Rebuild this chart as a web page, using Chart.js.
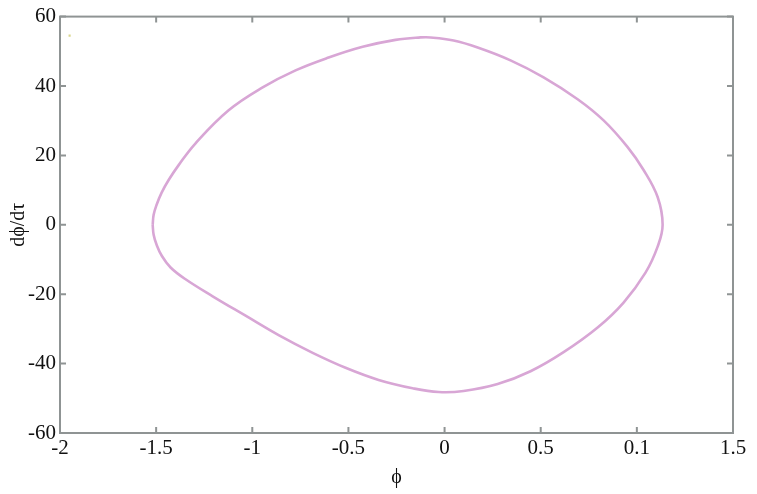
<!DOCTYPE html>
<html lang="en">
<head>
  <meta charset="UTF-8" />
  <title>Phase portrait</title>
  <script src="https://cdn.jsdelivr.net/npm/chart.js@4"></script>
  <style>
    html, body { margin: 0; padding: 0; background: #fff; }
    #wrap { width: 757px; height: 494px; }
  </style>
</head>
<body>
  <div id="wrap"><canvas id="phaseChart"></canvas></div>

  <script>
    // phase trajectory (closed loop, clockwise from the left tip)
    const phiValues = [
      -1.518, -1.513, -1.498, -1.472, -1.435, -1.383, -1.295, -1.123, -0.946, -0.775,
      -0.603, -0.426, -0.255, -0.125, -0.073, 0.047, 0.172, 0.343, 0.515, 0.692,
      0.827, 0.952, 1.035, 1.108, 1.134, 1.108, 1.045, 0.931, 0.796, 0.619,
      0.447, 0.276, 0.099, -0.031, -0.166, -0.343, -0.515, -0.686, -0.863, -1.035,
      -1.206, -1.347, -1.425, -1.470, -1.498, -1.513, -1.518
    ];
    const dphiValues = [
      0, 2.9, 5.7, 9.2, 12.9, 17.2, 23.5, 33.0, 39.6, 44.5,
      48.2, 51.3, 53.3, 54.0, 54.0, 53.1, 51.1, 47.4, 42.5, 36.2,
      30.1, 22.4, 15.8, 8.0, 0, -6.3, -13.8, -22.4, -29.6, -36.7,
      -42.2, -45.9, -47.9, -48.2, -47.1, -44.7, -41.2, -36.9, -31.8, -26.2,
      -20.6, -15.7, -12.3, -9.0, -5.7, -2.9, 0
    ];
    // stray speck near the top-left corner
    const strayPhi = [-1.95];
    const strayDphi = [54.5];

    const xTickValues = [-2, -1.5, -1, -0.5, 0, 0.5, 1, 1.5];
    const xTickLabels = ['-2', '-1.5', '-1', '-0.5', '0', '0.5', '0.1', '1.5'];
    const yTickValues = [-60, -40, -20, 0, 20, 40, 60];
    const yTickLabels = ['-60', '-40', '-20', '0', '20', '40', '60'];

    const frameColor = '#8f9494';
    const serif = "'Liberation Serif', 'DejaVu Serif', serif";

    const trajectory = phiValues.map((p, i) => ({ x: p, y: dphiValues[i] }));
    const stray = strayPhi.map((p, i) => ({ x: p, y: strayDphi[i] }));

    // box frame with inward ticks on all four sides
    const frameTicks = {
      id: 'frameTicks',
      afterDraw(chart) {
        const { ctx, chartArea: a, scales } = chart;
        ctx.save();
        ctx.strokeStyle = frameColor;
        ctx.lineWidth = 2;
        ctx.strokeRect(a.left, a.top, a.right - a.left, a.bottom - a.top);
        const len = 6;
        ctx.beginPath();
        xTickValues.forEach(v => {
          const px = scales.x.getPixelForValue(v);
          ctx.moveTo(px, a.bottom); ctx.lineTo(px, a.bottom - len);
          ctx.moveTo(px, a.top); ctx.lineTo(px, a.top + len);
        });
        yTickValues.forEach(v => {
          const py = scales.y.getPixelForValue(v);
          ctx.moveTo(a.left, py); ctx.lineTo(a.left + len, py);
          ctx.moveTo(a.right, py); ctx.lineTo(a.right - len, py);
        });
        ctx.stroke();
        ctx.restore();
      }
    };

    new Chart(document.getElementById('phaseChart'), {
      type: 'scatter',
      data: {
        datasets: [
          {
            label: 'trajectory',
            data: trajectory,
            showLine: true,
            borderColor: '#d8a6d5',
            borderWidth: 2.6,
            tension: 0.4,
            pointRadius: 0
          },
          {
            label: 'stray',
            data: stray,
            showLine: false,
            pointStyle: 'rect',
            pointRadius: 1.5,
            backgroundColor: '#d9d68c',
            borderWidth: 0
          }
        ]
      },
      options: {
        responsive: true,
        maintainAspectRatio: false,
        animation: false,
        layout: { padding: { top: 15, right: 24, left: 0, bottom: 0 } },
        plugins: {
          legend: { display: false },
          tooltip: { enabled: false }
        },
        scales: {
          x: {
            type: 'linear',
            min: -2,
            max: 1.5,
            afterBuildTicks: s => { s.ticks = xTickValues.map(v => ({ value: v })); },
            afterFit: s => { s.height = 61; },
            grid: { display: false, drawTicks: false },
            border: { display: false },
            ticks: {
              padding: 3,
              color: '#111',
              font: { family: serif, size: 21 },
              maxRotation: 0,
              autoSkip: false,
              callback: (v, i) => xTickLabels[i]
            },
            title: {
              display: true,
              text: 'ϕ',
              color: '#111',
              font: { family: serif, size: 20 },
              padding: { top: 0, bottom: 4 }
            }
          },
          y: {
            type: 'linear',
            min: -60,
            max: 60,
            afterBuildTicks: s => { s.ticks = yTickValues.map(v => ({ value: v })); },
            afterFit: s => { s.width = 60; },
            grid: { display: false, drawTicks: false },
            border: { display: false },
            ticks: {
              padding: 4,
              color: '#111',
              font: { family: serif, size: 21 },
              autoSkip: false,
              callback: (v, i) => yTickLabels[i]
            },
            title: {
              display: true,
              text: 'dϕ/dτ',
              color: '#111',
              font: { family: serif, size: 20 },
              padding: { top: 7, bottom: 0 }
            }
          }
        }
      },
      plugins: [frameTicks]
    });
  </script>
</body>
</html>
